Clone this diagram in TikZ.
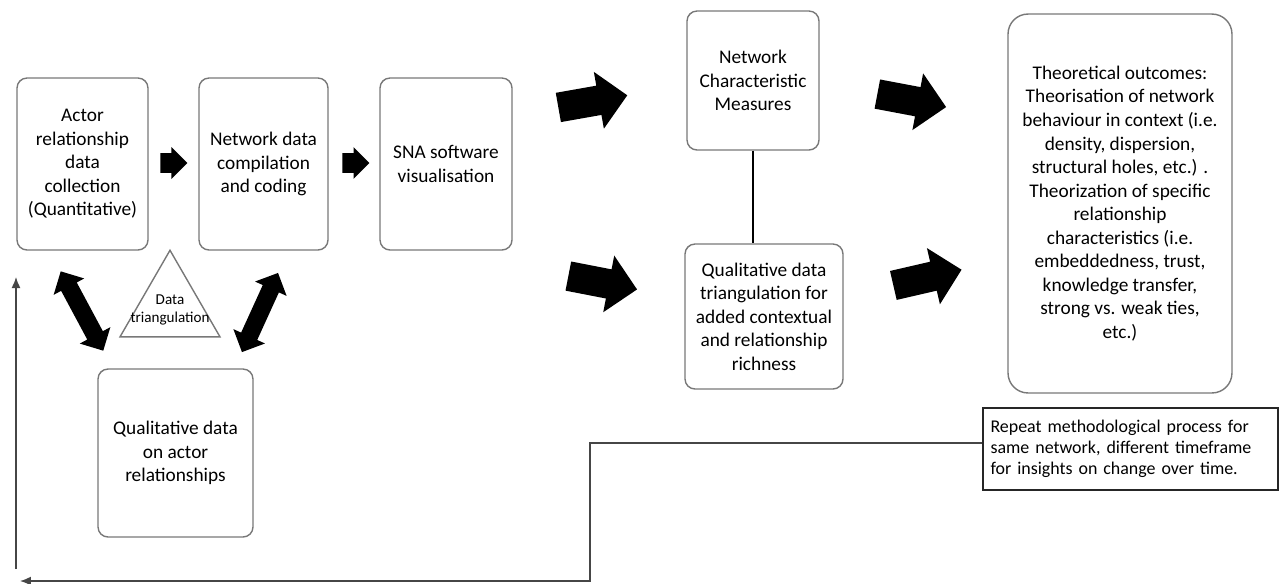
\documentclass[tikz,border=0pt]{standalone}
\usepackage{fontspec}
\setmainfont{Carlito}
\newfontfamily\notefont[WordSpace=0.6]{Carlito}
\usetikzlibrary{arrows.meta, positioning, shapes.geometric, shapes.arrows, calc}
\definecolor{boxgray}{RGB}{120,120,120}
\definecolor{linegray}{RGB}{70,70,70}

\begin{document}
\begin{tikzpicture}[x=0.02cm, y=-0.02cm,
    stage/.style={draw=boxgray, line width=0.8pt, rounded corners=0.2cm, align=center, inner sep=2pt, font=\fontsize{11}{13.4}\selectfont},
    note_box/.style={draw=black!85, line width=0.8pt, align=left, inner xsep=0.15cm, text width=5.6cm, font=\notefont\fontsize{10.2}{12}\selectfont},
    small_arrow/.style={single arrow, fill=black, draw=none, inner xsep=0pt, inner ysep=0.19cm, minimum height=0.54cm, single arrow head extend=0.12cm, anchor=tail},
    fat_arrow/.style={single arrow, fill=black, draw=none, inner xsep=0pt, inner ysep=0.29cm, minimum height=1.4cm, single arrow head extend=0.28cm, anchor=tail},
    both_arrow/.style={double arrow, fill=black, draw=none, inner xsep=0pt, inner ysep=0.17cm, minimum height=1.8cm, double arrow head extend=0.17cm},
    return/.style={-{Latex[length=2.2mm, width=1.8mm]}, draw=linegray, line width=0.8pt}
]
    \useasboundingbox (0,0) rectangle (1281,583);

    % Quantitative stages
    \node[stage, minimum width=2.62cm, minimum height=3.44cm] (actor) at (82.5,164) {Actor\\relationship\\data\\collection\\(Quantitative)};
    \node[stage, minimum width=2.58cm, minimum height=3.44cm] (compile) at (263.5,164) {Network data\\compilation\\and coding};
    \node[stage, minimum width=2.64cm, minimum height=3.44cm] (sna) at (446,164) {SNA software\\visualisation};

    \node[small_arrow] (a2c) at (160,163) {};
    \node[small_arrow] (c2s) at (342,163) {};

    % Qualitative data and triangulation
    \node[stage, minimum width=3.10cm, minimum height=3.36cm] (qual) at (175.5,453) {Qualitative data\\on actor\\relationships};
    \node[draw=boxgray, line width=0.8pt, regular polygon, regular polygon sides=3, minimum size=2.31cm, inner sep=0pt] (tri) at (170,308) {};
    \node[align=center, inner sep=0pt, font=\fontsize{8.6}{10.3}\selectfont] (tri_label) at (170,310) {Data\\triangulation};

    \node[both_arrow, rotate=-61.8] (actor_qual) at (82,311) {};
    \node[both_arrow, rotate=65.5, minimum height=1.74cm] (compile_qual) at (260,312.5) {};

    % Outputs of the software stage
    \node[fat_arrow, rotate=10] (s2m) at (558,107.5) {};
    \node[fat_arrow, rotate=-11] (s2q) at (568,276) {};

    \node[stage, minimum width=2.64cm, minimum height=2.78cm] (measures) at (753,80.5) {Network\\Characteristic\\Measures};
    \node[stage, minimum width=3.16cm, minimum height=2.90cm] (richness) at (764,316.5) {Qualitative data\\triangulation for\\added contextual\\and relationship\\richness};
    \draw[draw=black, line width=0.9pt] (measures.south) -- (measures.south |- richness.north);

    \node[fat_arrow, rotate=-10.7] (m2t) at (877,94) {};
    \node[fat_arrow, rotate=13] (r2t) at (893,285.5) {};

    % Theory
    \node[stage, rounded corners=0.4cm, minimum width=4.48cm, minimum height=7.58cm] (theory) at (1120,203.5) {Theoretical outcomes:\\Theorisation of network\\behaviour in context (i.e.\\density, dispersion,\\structural holes, etc.) .\\Theorization of specific\\relationship\\characteristics (i.e.\\embeddedness, trust,\\knowledge transfer,\\strong vs. weak ties,\\etc.)};

    % Repeat loop
    \node[note_box, minimum height=1.64cm] (repeat) at (1130.5,449) {Repeat methodological process for\\same network, different timeframe\\for insights on change over time.};
    \coordinate (loop_end) at (20,581);
    \coordinate (up_start) at (16,569);
    \coordinate (up_end) at (16,277);
    \draw[return] ([yshift=0.12cm]repeat.west) -| (590,581) -- (loop_end);
    \draw[return] (up_start) -- (up_end);

\end{tikzpicture}
\end{document}
